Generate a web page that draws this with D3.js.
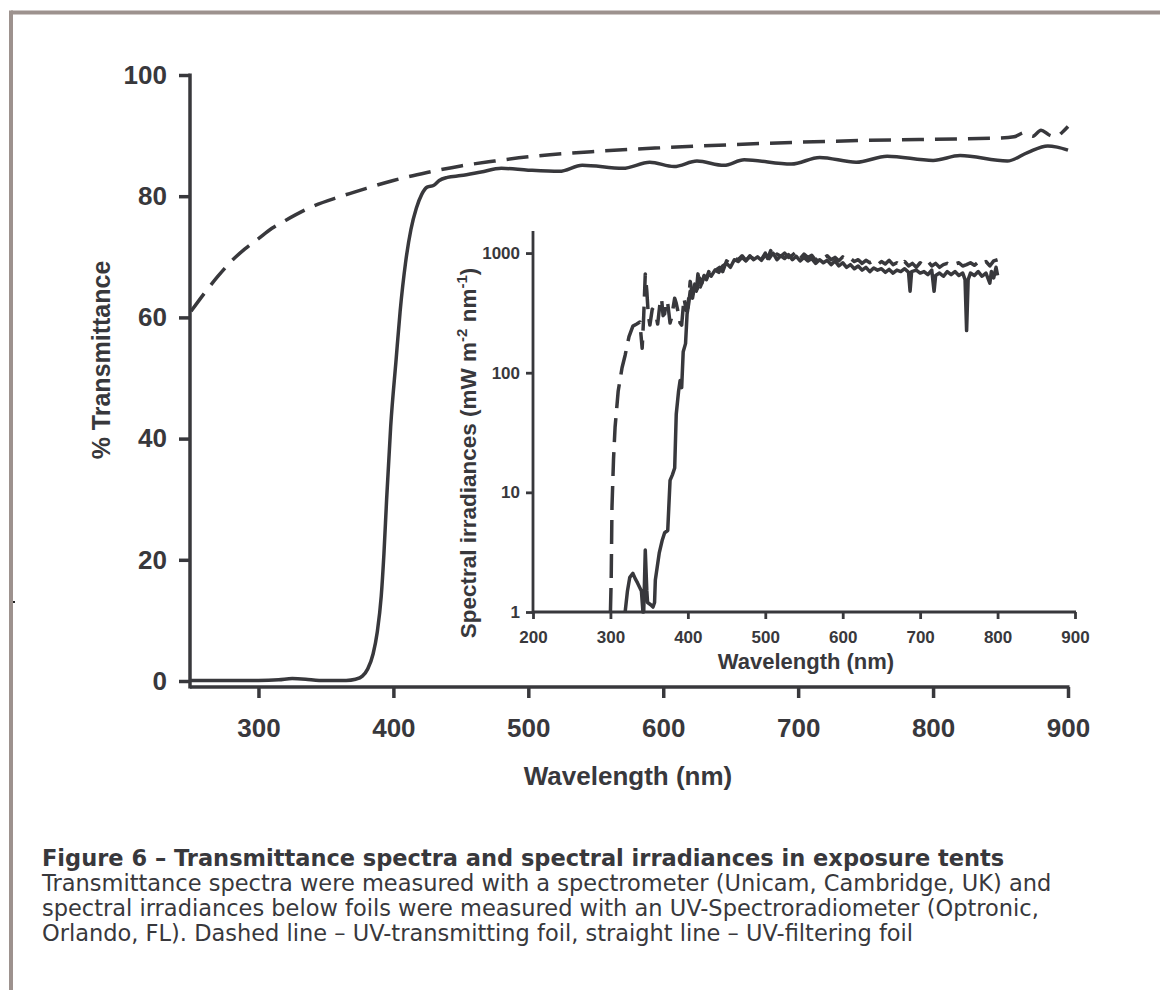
<!DOCTYPE html>
<html>
<head>
<meta charset="utf-8">
<script src="https://cdn.jsdelivr.net/npm/d3@7"></script>
<style>
  body { margin: 0; background: #fff; }
  svg { display: block; }
</style>
</head>
<body>
<script>
// main chart: % transmittance of the two foils
const mainXTicks = [300, 400, 500, 600, 700, 800, 900];
const mainYTicks = [0, 20, 40, 60, 80, 100];

// UV-transmitting foil (dashed)
const transDashed = [
  [250, 61], [260, 64], [270, 66.8], [280, 69.3], [290, 71.3], [300, 73], [310, 74.7],
  [320, 76], [340, 78.3], [360, 79.9], [380, 81.3], [400, 82.6], [425, 83.9], [450, 85],
  [475, 85.8], [500, 86.5], [550, 87.4], [600, 88], [650, 88.5], [700, 88.9], [750, 89.2],
  [800, 89.4], [850, 89.6], [860, 89.8], [868, 90.5], [874, 89.9], [880, 90.9], [886, 90.1],
  [891, 89.8], [896, 90.6], [900, 91.5]
];

// UV-filtering foil (solid)
const transSolid = [
  [250, 0.1], [300, 0.1], [315, 0.2], [325, 0.4], [335, 0.3], [345, 0.1], [365, 0.1],
  [372, 0.3], [377, 0.8], [381, 2], [385, 4.5], [388, 8], [391, 14], [393, 21], [395, 30],
  [398, 42], [402, 53], [405, 61], [409, 69], [413, 74.5], [417, 78], [421, 80.3], [425, 81.5],
  [430, 81.8], [434, 82.6], [440, 83.1], [450, 83.4], [465, 84], [480, 84.6], [500, 84.3],
  [523, 84.1], [540, 85.1], [570, 84.6], [590, 85.6], [608, 84.9], [625, 85.8], [645, 85.1],
  [660, 86], [695, 85.3], [716, 86.4], [743, 85.6], [766, 86.6], [800, 85.9], [820, 86.7],
  [855, 85.8], [870, 87.2], [885, 88.3], [892, 88.1], [900, 87.6]
];

// inset: spectral irradiances below the foils (log scale)
const insetXTicks = [200, 300, 400, 500, 600, 700, 800, 900];
const insetYTicks = [1, 10, 100, 1000];

const irrDashed = [
  [300, 1], [301, 1.9], [302, 7.5], [304, 19], [306, 35], [310, 70], [315, 110], [319, 140],
  [324, 200], [329, 245], [334, 255], [338, 265], [341, 160], [343, 300], [345, 670], [347, 480],
  [349, 300], [351, 250], [354, 340], [358, 320], [361, 255], [364, 380], [366, 420], [368, 300],
  [370, 310], [372, 400], [374, 380], [377, 260], [379, 290], [381, 350], [383, 420], [385, 380],
  [387, 330], [390, 260], [392, 250], [395, 420], [398, 330], [400, 350], [403, 580], [406, 450],
  [409, 550], [411, 480], [413, 670], [416, 520], [418, 560], [421, 640], [424, 610], [427, 700],
  [430, 650], [432, 680], [436, 720], [441, 760], [445, 700], [450, 860], [455, 820], [460, 900],
  [465, 880], [470, 950], [475, 870], [480, 930], [485, 900], [490, 960], [495, 880], [500, 1000],
  [503, 900], [507, 1050], [510, 920], [515, 980], [520, 940], [525, 1000], [530, 920], [535, 960],
  [540, 1020], [545, 900], [550, 980], [555, 920], [560, 960], [565, 870], [570, 940], [575, 900],
  [580, 950], [585, 880], [590, 920], [595, 860], [600, 930], [605, 870], [610, 900], [615, 850],
  [620, 880], [625, 820], [630, 870], [635, 830], [640, 860], [645, 800], [650, 850], [655, 810],
  [660, 870], [665, 800], [670, 830], [675, 780], [680, 850], [685, 780], [690, 820], [695, 760],
  [700, 830], [705, 790], [710, 850], [715, 780], [720, 820], [725, 760], [730, 800], [735, 820],
  [740, 780], [745, 810], [750, 830], [755, 780], [760, 800], [765, 830], [770, 790], [775, 840],
  [780, 800], [785, 850], [790, 780], [795, 860], [800, 880]
];

const irrSolid = [
  [319, 1], [322, 1.5], [325, 1.95], [329, 2.1], [332, 1.9], [335, 1.75], [340, 1.5], [342, 1],
  [343, 1], [345, 3.3], [347, 1.5], [348, 1.2], [352, 1.15], [355, 1.1], [357, 1.2], [358, 1.85],
  [363, 3.1], [367, 4], [370, 4.6], [374, 4.8], [377, 12.6], [380, 14], [383, 16], [385, 45],
  [388, 70], [390, 86], [392, 75], [394, 150], [397, 175], [399, 310], [401, 375], [403, 480],
  [406, 420], [409, 550], [412, 500], [415, 620], [418, 560], [421, 650], [424, 600], [427, 680],
  [430, 640], [435, 720], [440, 690], [445, 780], [450, 820], [455, 760], [460, 880], [465, 850],
  [470, 920], [475, 860], [480, 950], [485, 880], [490, 930], [495, 870], [500, 960], [505, 900],
  [510, 1000], [515, 880], [520, 950], [525, 900], [530, 970], [535, 880], [540, 940], [545, 860],
  [550, 920], [555, 860], [560, 900], [565, 820], [570, 880], [575, 830], [580, 870], [585, 800],
  [590, 860], [595, 780], [600, 830], [605, 760], [610, 800], [615, 740], [620, 780], [625, 720],
  [630, 760], [635, 700], [640, 750], [645, 720], [650, 740], [655, 690], [660, 730], [665, 680],
  [670, 720], [675, 700], [680, 740], [685, 690], [687, 480], [689, 700], [695, 720], [700, 680],
  [705, 700], [710, 660], [715, 720], [718, 480], [720, 650], [725, 680], [730, 640], [735, 700],
  [740, 660], [745, 700], [750, 650], [755, 680], [758, 600], [760, 225], [762, 600], [765, 680],
  [770, 650], [775, 700], [780, 640], [785, 680], [790, 560], [792, 700], [795, 620], [798, 760],
  [800, 650]
];

const captionTitle = "Figure 6 \u2013 Transmittance spectra and spectral irradiances in exposure tents";
const captionLines = [
  "Transmittance spectra were measured with a spectrometer (Unicam, Cambridge, UK) and",
  "spectral irradiances below foils were measured with an UV-Spectroradiometer (Optronic,",
  "Orlando, FL). Dashed line \u2013 UV-transmitting foil, straight line \u2013 UV-filtering foil"
];

const W = 1160, H = 990;
const ink = "#38383c";
const frame = "#9d928e";
const chartFont = "'Liberation Sans', Arial, Helvetica, sans-serif";

const svg = d3.select("body").append("svg")
  .attr("width", W)
  .attr("height", H);

svg.append("rect").attr("width", W).attr("height", H).attr("fill", "#fff");

// grey frame (top and left)
svg.append("line").attr("x1", 11).attr("x2", W).attr("y1", 12.5).attr("y2", 12.5)
  .attr("stroke", frame).attr("stroke-width", 4);
svg.append("line").attr("x1", 11).attr("x2", 11).attr("y1", 10.5).attr("y2", H)
  .attr("stroke", frame).attr("stroke-width", 4);
svg.append("rect").attr("x", 13).attr("y", 601).attr("width", 2).attr("height", 2).attr("fill", "#222");

// ---------- main chart ----------
const x = d3.scaleLinear().domain([250, 900]).range([191, 1068]);
const y = d3.scaleLinear().domain([0, 100]).range([681, 75]);
const axisY0 = 687;

const main = svg.append("g").attr("font-family", chartFont);

const xAxis = main.append("g")
  .attr("transform", `translate(0,${axisY0})`)
  .call(d3.axisBottom(x).tickValues(mainXTicks).tickSize(11).tickSizeOuter(0).tickPadding(12));
xAxis.select(".domain").remove();
main.append("line").attr("x1", 190).attr("x2", x(900) + 1.5).attr("y1", axisY0).attr("y2", axisY0)
  .attr("stroke", ink).attr("stroke-width", 3.5);

const yAxis = main.append("g")
  .attr("transform", "translate(190,0)")
  .call(d3.axisLeft(y).tickValues(mainYTicks).tickSize(11).tickSizeOuter(0).tickPadding(12));
yAxis.select(".domain").remove();
main.append("line").attr("x1", 190).attr("x2", 190).attr("y1", y(100) - 1.5).attr("y2", axisY0 + 1.5)
  .attr("stroke", ink).attr("stroke-width", 3.5);

[xAxis, yAxis].forEach(a => {
  a.selectAll(".tick line").attr("stroke", ink).attr("stroke-width", 3.5);
  a.selectAll(".tick text").attr("fill", ink).attr("font-size", 26).attr("font-weight", "bold");
});
xAxis.selectAll(".tick text").attr("dy", "1.05em");

main.append("text")
  .attr("x", 628).attr("y", 785)
  .attr("text-anchor", "middle")
  .attr("font-size", 26).attr("font-weight", "bold").attr("fill", ink)
  .text("Wavelength (nm)");

main.append("text")
  .attr("transform", "translate(110,360) rotate(-90)")
  .attr("text-anchor", "middle")
  .attr("font-size", 25).attr("font-weight", "bold").attr("fill", ink)
  .text("% Transmittance");

const mainLine = d3.line()
  .x(d => x(d[0]))
  .y(d => y(d[1]))
  .curve(d3.curveMonotoneX);

main.append("path").datum(transDashed)
  .attr("d", mainLine)
  .attr("fill", "none").attr("stroke", ink).attr("stroke-width", 3.5)
  .attr("stroke-dasharray", "22,11");

main.append("path").datum(transSolid)
  .attr("d", mainLine)
  .attr("fill", "none").attr("stroke", ink).attr("stroke-width", 3.5)
  .attr("stroke-linejoin", "round");

// ---------- inset ----------
const xi = d3.scaleLinear().domain([200, 900]).range([533, 1075]);
const yi = d3.scaleLog().domain([1, 1500]).range([612, 232]);

const inset = svg.append("g").attr("font-family", chartFont);

const xiAxis = inset.append("g")
  .attr("transform", "translate(0,612)")
  .call(d3.axisBottom(xi).tickValues(insetXTicks).tickSize(7).tickSizeOuter(0).tickPadding(8));
xiAxis.select(".domain").remove();
inset.append("line").attr("x1", 533).attr("x2", xi(900) + 1).attr("y1", 612).attr("y2", 612)
  .attr("stroke", ink).attr("stroke-width", 2.8);

const yiAxis = inset.append("g")
  .attr("transform", "translate(533,0)")
  .call(d3.axisLeft(yi).tickValues(insetYTicks).tickFormat(d3.format("d")).tickSize(7).tickSizeOuter(0).tickPadding(6));
yiAxis.select(".domain").remove();
inset.append("line").attr("x1", 533).attr("x2", 533).attr("y1", 231).attr("y2", 613.4)
  .attr("stroke", ink).attr("stroke-width", 2.8);

[xiAxis, yiAxis].forEach(a => {
  a.selectAll(".tick line").attr("stroke", ink).attr("stroke-width", 2.8);
  a.selectAll(".tick text").attr("fill", ink).attr("font-size", 17).attr("font-weight", "bold");
});
xiAxis.selectAll(".tick text").attr("dy", "0.95em");

inset.append("text")
  .attr("x", 806).attr("y", 669)
  .attr("text-anchor", "middle")
  .attr("font-size", 22).attr("font-weight", "bold").attr("fill", ink)
  .text("Wavelength (nm)");

const yLab = inset.append("text")
  .attr("transform", "translate(476,453) rotate(-90)")
  .attr("text-anchor", "middle")
  .attr("font-size", 22.5).attr("font-weight", "bold").attr("fill", ink);
yLab.append("tspan").text("Spectral irradiances (mW m");
yLab.append("tspan").attr("font-size", 15).attr("dy", -9).text("-2");
yLab.append("tspan").attr("dy", 9).text(" nm");
yLab.append("tspan").attr("font-size", 15).attr("dy", -9).text("-1");
yLab.append("tspan").attr("dy", 9).text(")");

const insetLine = d3.line()
  .x(d => xi(d[0]))
  .y(d => yi(d[1]));

inset.append("path").datum(irrDashed)
  .attr("d", insetLine)
  .attr("fill", "none").attr("stroke", ink).attr("stroke-width", 3.5)
  .attr("stroke-linejoin", "round")
  .attr("stroke-dasharray", "24,10");

inset.append("path").datum(irrSolid)
  .attr("d", insetLine)
  .attr("fill", "none").attr("stroke", ink).attr("stroke-width", 3.5)
  .attr("stroke-linejoin", "round");

// ---------- caption ----------
const cap = svg.append("g")
  .attr("font-family", "'DejaVu Sans', Verdana, sans-serif")
  .attr("font-size", 22.5)
  .attr("fill", ink);

cap.append("text")
  .attr("x", 42).attr("y", 866)
  .attr("font-weight", "bold")
  .text(captionTitle);

cap.selectAll("text.line")
  .data(captionLines)
  .enter()
  .append("text")
  .attr("class", "line")
  .attr("x", 42)
  .attr("y", (d, i) => 891 + i * 25)
  .text(d => d);
</script>
</body>
</html>
